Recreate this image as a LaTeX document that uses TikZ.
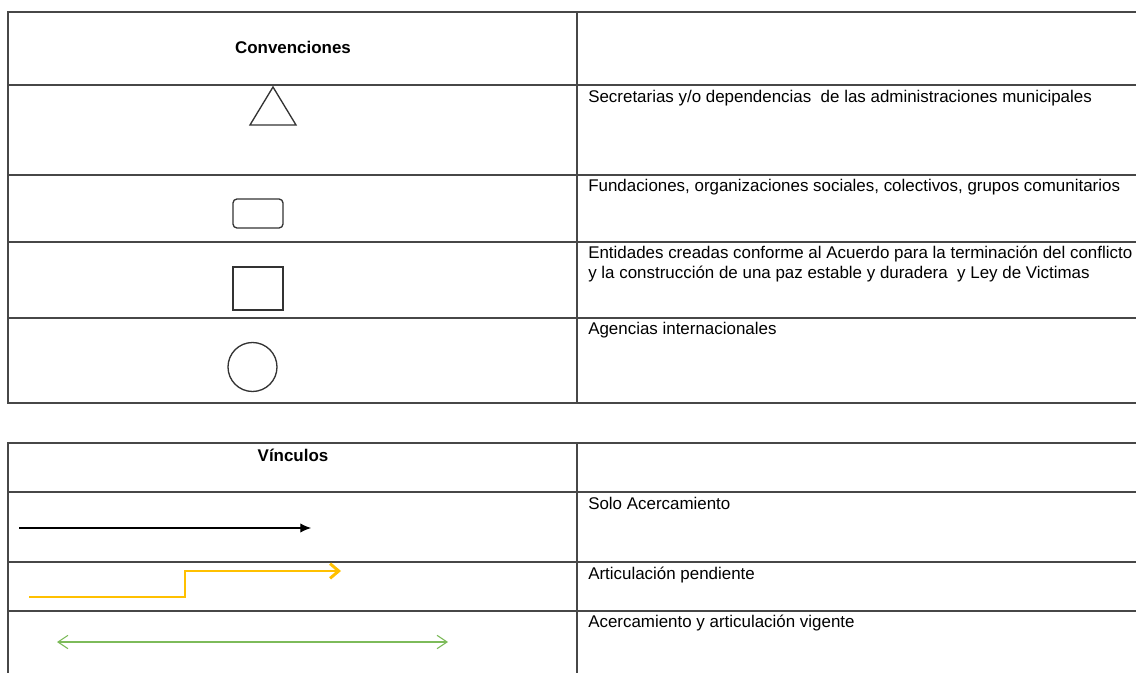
\documentclass[tikz,border=0pt]{standalone}
\usepackage{fontspec}
\setmainfont{Liberation Sans}
\usetikzlibrary{arrows.meta}
\definecolor{amarillo}{HTML}{FFC000}
\definecolor{verde}{HTML}{7DBB5A}
\begin{document}
\begin{tikzpicture}[x=0.75pt,y=-0.75pt]
	\tikzstyle{every node}+=[inner sep=0pt, font=\fontsize{12.7}{15.5}\selectfont]
	\tikzstyle{rule}=[line width=1.1pt, draw=black!72]
	\tikzstyle{figura}=[line width=1pt, draw=black!80]
	\tikzstyle{texto}=[anchor=base west, align=left]
	\tikzstyle{titulo}=[anchor=base, font=\fontsize{12.7}{15.5}\selectfont\bfseries]
	\useasboundingbox (0,0) rectangle (1136,673);
	\clip (0,0) rectangle (1136,673);
	% tabla de convenciones
	\draw [rule] (1150,12) -- (8,12) -- (8,403) -- (1150,403);
	\foreach \y in {85,175,242,318} \draw [rule] (8,\y) -- (1150,\y);
	\draw [rule] (577,12) -- (577,403);
	\node [titulo] (conv) at (293,54) {Convenciones};
	\draw [figura] (273,87) -- (296,125) -- (250,125) -- cycle;
	\draw [figura, rounded corners=3pt] (233,199) rectangle (283,228);
	\draw [figura] (233,267) rectangle (283,310);
	\draw [figura] (252.5,367) circle (24.5);
	\node [texto] (secre) at (588,103) {Secretarias y/o dependencias\ \ de las administraciones municipales};
	\node [texto] (funda) at (588,192) {Fundaciones, organizaciones sociales, colectivos, grupos comunitarios};
	\node [texto] (entid) at (588,279) {Entidades creadas conforme al Acuerdo para la terminación del conflicto\\y la construcción de una paz estable y duradera\ \ y Ley de Victimas};
	\node [texto] (agenc) at (588,335) {Agencias internacionales};
	% tabla de vinculos
	\draw [rule] (1150,443) -- (8,443) -- (8,680);
	\foreach \y in {492,562,611} \draw [rule] (8,\y) -- (1150,\y);
	\draw [rule] (577,443) -- (577,680);
	\node [titulo] (vinc) at (293,462) {Vínculos};
	\coordinate (a1) at (19,528);
	\coordinate (a2) at (311,528);
	\draw [black, line width=0.8pt, -{Latex[length=8pt,width=7pt]}] (a1) -- (a2);
	\node [texto] (solo) at (588,510) {Solo Acercamiento};
	\coordinate (b1) at (29,597);
	\coordinate (b2) at (185,571);
	\coordinate (b3) at (341,571);
	\draw [amarillo, line width=2.2pt, -{Straight Barb[length=6.5pt,width=11pt]}] (b1) -| (b2) -- (b3);
	\node [texto] (artic) at (588,580) {Articulación pendiente};
	\coordinate (c1) at (57,642);
	\coordinate (c2) at (448,642);
	\draw [verde, line width=0.8pt, {Straight Barb[length=7.5pt,width=10pt]}-{Straight Barb[length=7.5pt,width=10pt]}] (c1) -- (c2);
	\node [texto] (acerc) at (588,628) {Acercamiento y articulación vigente};
\end{tikzpicture}
\end{document}
